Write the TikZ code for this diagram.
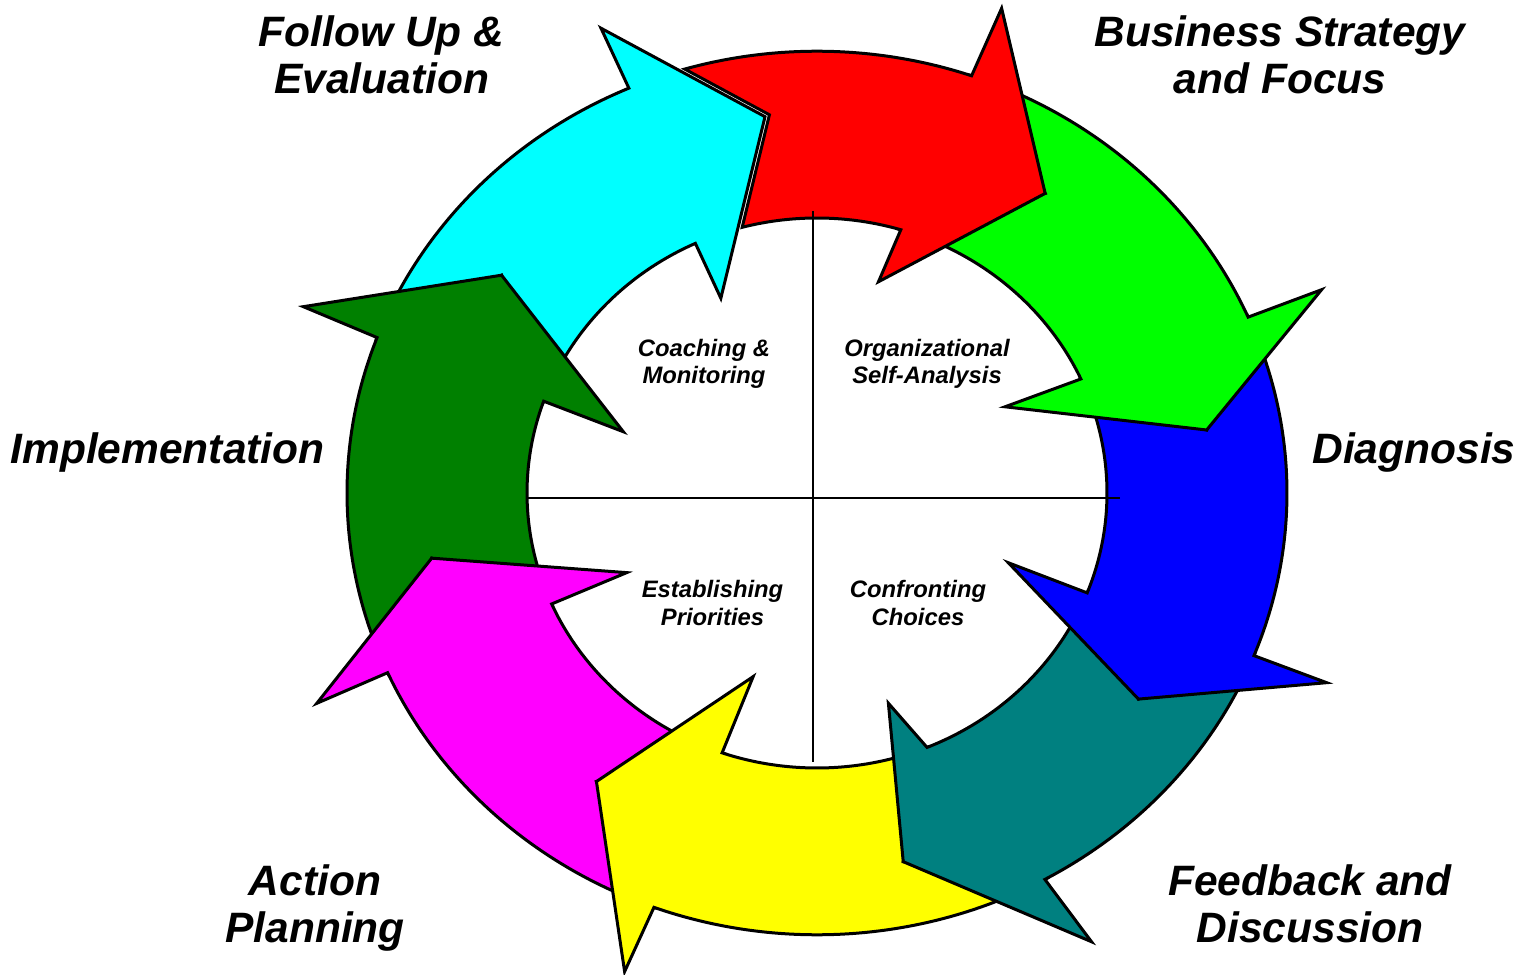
\documentclass[tikz,border=0pt]{standalone}
\usepackage{fontspec}
\setmainfont{Liberation Sans}
\newcommand{\pc}[3]{\coordinate (#1) at ({(#3)*cos(#2)},{0.94*(#3)*sin(#2)});}
\newcommand{\po}[2]{\coordinate (#1) at ({470*cos(#2)},{441.8*sin(#2)});}
\newcommand{\pin}[2]{\coordinate (#1) at ({290*cos(#2)},{275*sin(#2)});}
\begin{document}
\begin{tikzpicture}[x=1pt,y=1pt,
  arrowshape/.style={draw=black, line width=3pt, line join=miter},
  outerarc/.style={x radius=470, y radius=441.8},
  innerarc/.style={x radius=290, y radius=275},
  biglabel/.style={font=\fontsize{42.5}{47.3}\selectfont\bfseries\itshape, align=center, inner sep=0pt},
  smalllabel/.style={font=\fontsize{23.8}{27.6}\selectfont\bfseries\itshape, align=center, inner sep=0pt},
  crossline/.style={draw=black, line width=2.2pt}]
\definecolor{cRed}{RGB}{255,0,0}
\definecolor{cGreen}{RGB}{0,255,0}
\definecolor{cBlue}{RGB}{0,0,255}
\definecolor{cTeal}{RGB}{0,128,128}
\definecolor{cYellow}{RGB}{255,255,0}
\definecolor{cMagenta}{RGB}{255,0,255}
\definecolor{cDkGreen}{RGB}{0,128,0}
\definecolor{cCyan}{RGB}{0,255,255}
\fill[white] (0,0) rectangle (1533,974);
\useasboundingbox (0,0) rectangle (1533,974);
\begin{scope}[shift={(817,481)}]
% cyan
\po{cy-os}{113.6} \pc{cy-ob}{113.6}{539.6} \pc{cy-tip}{97.4}{403.7} \pc{cy-ib}{114.9}{228.4} \pin{cy-is}{114.8}
% red
\po{rd-os}{70.8} \pc{rd-ob}{70.3}{547.7} \pc{rd-tip}{54.4}{392} \pc{rd-ib}{74.7}{233} \pin{rd-is}{73.2}
\po{rd-t0}{106.35} \coordinate (rd-n) at (-47.6,378.2);
% green
\po{gr-os}{23.46} \pc{gr-ob}{23.2}{549} \pc{gr-tip}{9.76}{395.4} \pc{gr-ib}{26.0}{209.2} \pin{gr-is}{24.5}
% blue
\po{bl-os}{-21.6} \pc{bl-ob}{-21.6}{548.2} \pc{bl-tip}{-34.3}{389.1} \pc{bl-ib}{-21.2}{205.2} \pin{bl-is}{-21.3}
% teal
\po{tl-os}{-61.0} \pc{tl-ob}{-60.1}{550.7} \pc{tl-tip}{-77.6}{401.6} \pc{tl-ib}{-72.3}{234.8} \pin{tl-is}{-67.7}
% yellow
\po{ye-os}{-110.3} \pc{ye-ob}{-110.7}{544.3} \pc{ye-tip}{-125.7}{378} \pc{ye-ib}{-108.1}{205.5} \pin{ye-is}{-109.1}
% magenta
\po{mg-os}{-156.0} \pc{mg-ob}{-155.9}{548} \pc{mg-tip}{-169.8}{391.5} \pc{mg-ib}{-156.0}{208.3} \pin{mg-is}{-156.2}
% dark green
\po{dg-os}{159.4} \pc{dg-ob}{158.9}{550.6} \pc{dg-tip}{143.7}{391.4} \pc{dg-ib}{161.4}{204.4} \pin{dg-is}{160.5}

% cyan (tail under dark green head)
\filldraw[arrowshape, fill=cCyan] (dg-os) arc[start angle=159.4, end angle=113.6, outerarc]
  -- (cy-ob) -- (cy-tip) -- (cy-ib) -- (cy-is) arc[start angle=114.8, end angle=160.5, innerarc]
  -- (dg-tip) -- cycle;
% dark green
\filldraw[arrowshape, fill=cDkGreen] (mg-os) arc[start angle=204.0, end angle=159.4, outerarc]
  -- (dg-ob) -- (dg-tip) -- (dg-ib) -- (dg-is) arc[start angle=160.5, end angle=203.8, innerarc]
  -- (mg-tip) -- cycle;
% magenta
\filldraw[arrowshape, fill=cMagenta] (ye-os) arc[start angle=-110.3, end angle=-156.0, outerarc]
  -- (mg-ob) -- (mg-tip) -- (mg-ib) -- (mg-is) arc[start angle=-156.2, end angle=-109.1, innerarc]
  -- (ye-tip) -- cycle;
% yellow
\filldraw[arrowshape, fill=cYellow] (tl-os) arc[start angle=-61.0, end angle=-110.3, outerarc]
  -- (ye-ob) -- (ye-tip) -- (ye-ib) -- (ye-is) arc[start angle=-109.1, end angle=-67.7, innerarc]
  -- (tl-tip) -- cycle;
% teal
\filldraw[arrowshape, fill=cTeal] (bl-os) arc[start angle=-21.6, end angle=-61.0, outerarc]
  -- (tl-ob) -- (tl-tip) -- (tl-ib) -- (tl-is) arc[start angle=-67.7, end angle=-21.3, innerarc]
  -- (bl-tip) -- cycle;
% blue
\filldraw[arrowshape, fill=cBlue] (gr-os) arc[start angle=23.46, end angle=-21.6, outerarc]
  -- (bl-ob) -- (bl-tip) -- (bl-ib) -- (bl-is) arc[start angle=-21.3, end angle=24.5, innerarc]
  -- (gr-tip) -- cycle;
% green
\filldraw[arrowshape, fill=cGreen] (rd-os) arc[start angle=70.8, end angle=23.46, outerarc]
  -- (gr-ob) -- (gr-tip) -- (gr-ib) -- (gr-is) arc[start angle=24.5, end angle=73.2, innerarc]
  -- (rd-tip) -- cycle;
% red (tail notched round the cyan head)
\filldraw[arrowshape, fill=cRed] (rd-t0) arc[start angle=106.35, end angle=70.8, outerarc]
  -- (rd-ob) -- (rd-tip) -- (rd-ib) -- (rd-is) arc[start angle=73.2, end angle=104.95, innerarc]
  -- (rd-n) -- cycle;
\end{scope}

% quadrant lines
\coordinate (vtop) at (812.7,763);
\coordinate (vbot) at (812.7,212);
\coordinate (hl) at (527,475.7);
\coordinate (hr) at (1120,475.7);
\draw[crossline] (vtop) -- (vbot);
\draw[crossline] (hl) -- (hr);

% outer labels
\node[biglabel] (follow) at (381.5,919.1) {Follow Up \&\\Evaluation};
\node[biglabel] (business) at (1280,919.1) {Business Strategy\\and Focus};
\node[biglabel, anchor=base] (impl) at (167.5,510.5) {Implementation};
\node[biglabel, anchor=base] (diag) at (1414,510.5) {Diagnosis};
\node[biglabel] (feedback) at (1310,70.2) {Feedback and\\Discussion};
\node[biglabel] (action) at (315,65.8) {Action\\Planning};

% inner labels
\node[smalllabel] (coach) at (704,610) {Coaching \&\\Monitoring};
\node[smalllabel] (org) at (927,610) {Organizational\\Self-Analysis};
\node[smalllabel] (estab) at (712.5,371) {Establishing\\Priorities};
\node[smalllabel] (confront) at (918,371) {Confronting\\Choices};
\end{tikzpicture}
\end{document}
